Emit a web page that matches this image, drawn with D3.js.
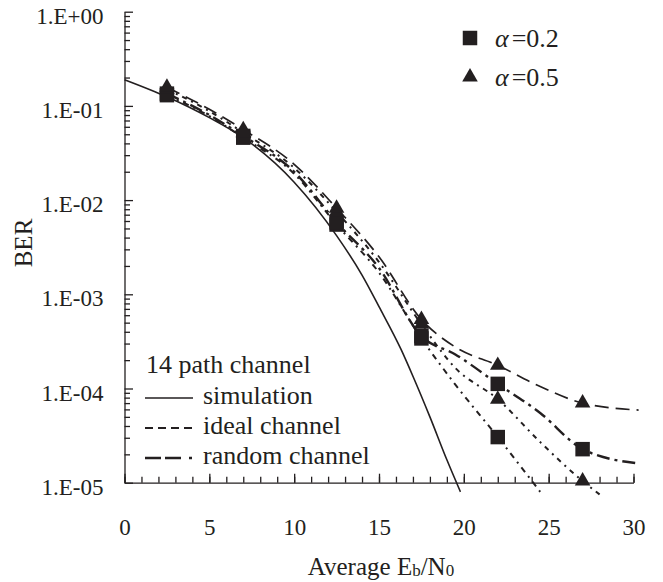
<!DOCTYPE html>
<html>
<head>
<meta charset="utf-8">
<script src="https://cdn.jsdelivr.net/npm/d3@7"></script>
<style>
  body { margin: 0; background: #fff; }
</style>
</head>
<body>
<div id="chart"></div>
<script>
// x positions of the markers (Eb/N0, dB)
const markerX = [2.5, 7, 12.5, 17.5, 22, 27];

// marker values, one list per series (null = off the chart)
const randomA05Marks = [0.158, 0.056, 0.0082, 5.4e-4, 1.76e-4, 7.0e-5];
const randomA02Marks = [0.135, 0.048, 0.0058, 3.6e-4, 1.12e-4, 2.27e-5];
const idealA05Marks  = [0.15, 0.052, 0.0075, 4.8e-4, 7.7e-5, 1.04e-5];
const idealA02Marks  = [0.13, 0.046, 0.0055, 3.4e-4, 3.05e-5, null];

// curves
const simX = [0, 2.5, 5, 7, 10, 12.5, 14, 15, 16.3, 17, 18, 19, 19.8];
const simY = [0.19, 0.125, 0.075, 0.046, 0.0155, 0.0042, 0.0016, 7.4e-4, 2.6e-4, 1.35e-4, 5e-5, 1.75e-5, 8e-6];

const randomA05X = [2.5, 5, 7, 10, 12.5, 15, 17.5, 19.5, 22, 24.5, 27, 30.3];
const randomA05Y = [0.158, 0.092, 0.056, 0.024, 0.0082, 0.0025, 5.4e-4, 2.75e-4, 1.76e-4, 1.05e-4, 7.0e-5, 5.9e-5];
const randomA02X = [2.5, 5, 7, 10, 12.5, 15, 17.5, 19.5, 22, 24.5, 27, 30.3];
const randomA02Y = [0.135, 0.08, 0.048, 0.02, 0.0058, 0.0019, 3.6e-4, 2.3e-4, 1.12e-4, 5.5e-5, 2.27e-5, 1.6e-5];
const idealA05X = [2.5, 5, 7, 10, 12.5, 15, 17.5, 19.5, 22, 24.5, 27, 28];
const idealA05Y = [0.15, 0.088, 0.052, 0.022, 0.0075, 0.0022, 4.8e-4, 1.65e-4, 7.7e-5, 2.7e-5, 1.04e-5, 7.5e-6];
const idealA02X = [2.5, 5, 7, 10, 12.5, 15, 17.5, 19.5, 22, 24.5];
const idealA02Y = [0.13, 0.078, 0.046, 0.019, 0.0055, 0.0017, 3.4e-4, 1.1e-4, 3.05e-5, 8e-6];

// tick labels
const xTickValues = [0, 5, 10, 15, 20, 25, 30];
const yTickValues = [1, 1e-1, 1e-2, 1e-3, 1e-4, 1e-5];
const yTickLabels = ["1.E+00", "1.E-01", "1.E-02", "1.E-03", "1.E-04", "1.E-05"];

const width = 663, height = 582;
const ink = "#231f20";
const serif = '"Liberation Serif", "Times New Roman", serif';

const svg = d3.select("#chart").append("svg")
  .attr("width", width)
  .attr("height", height)
  .attr("font-family", serif);

const x = d3.scaleLinear().domain([0, 30]).range([124.5, 633.5]);
const y = d3.scaleLog().domain([1e-5, 1]).range([482.7, 11.7]);

// x axis: minor ticks every unit, major every 5
svg.append("g")
  .attr("transform", `translate(0,${y(1e-5)})`)
  .call(d3.axisBottom(x).tickValues(d3.range(0, 31, 1)).tickSize(-6).tickSizeOuter(0).tickFormat(""))
  .call(g => g.selectAll("line,path").attr("stroke", ink).attr("stroke-width", 1.3));

svg.append("g")
  .attr("transform", `translate(0,${y(1e-5)})`)
  .call(d3.axisBottom(x).tickValues(xTickValues).tickSize(-9).tickSizeOuter(0).tickPadding(36))
  .call(g => g.attr("font-family", serif).attr("font-size", 23))
  .call(g => g.select(".domain").remove())
  .call(g => g.selectAll("line").attr("stroke", ink).attr("stroke-width", 1.3))
  .call(g => g.selectAll("text").attr("fill", ink));

// y axis: log minor ticks
const yMinor = [];
for (let e = -5; e < 0; e++) for (let k = 2; k <= 9; k++) yMinor.push(k * Math.pow(10, e));

svg.append("g")
  .attr("transform", `translate(${x(0)},0)`)
  .call(d3.axisLeft(y).tickValues(yMinor).tickSize(-5.5).tickSizeOuter(0).tickFormat(""))
  .call(g => g.selectAll("line,path").attr("stroke", ink).attr("stroke-width", 1.3));

svg.append("g")
  .attr("transform", `translate(${x(0)},0)`)
  .call(d3.axisLeft(y).tickValues(yTickValues).tickSize(-8.5).tickSizeOuter(0).tickPadding(21)
    .tickFormat((d, i) => yTickLabels[i]))
  .call(g => g.attr("font-family", serif).attr("font-size", 23))
  .call(g => g.select(".domain").remove())
  .call(g => g.selectAll("line").attr("stroke", ink).attr("stroke-width", 1.3))
  .call(g => g.selectAll("text").attr("dy", "0.5em").attr("fill", ink));

// axis titles
svg.append("text")
  .attr("transform", "translate(32,243) rotate(-90)")
  .attr("text-anchor", "middle")
  .attr("font-size", 25)
  .attr("fill", ink)
  .text("BER");

const xt = svg.append("text")
  .attr("x", 381).attr("y", 575)
  .attr("text-anchor", "middle")
  .attr("font-size", 25)
  .attr("fill", ink);
xt.append("tspan").text("Average E");
xt.append("tspan").attr("font-size", 17).attr("dy", 1).text("b");
xt.append("tspan").attr("dy", -1).text("/N");
xt.append("tspan").attr("font-size", 17).attr("dy", 1).text("0");

// curves
const line = d3.line()
  .x(d => x(d[0]))
  .y(d => y(d[1]))
  .curve(d3.curveMonotoneX);

const curves = [
  { xs: simX, ys: simY, dash: null, w: 1.6 },
  { xs: idealA02X, ys: idealA02Y, dash: "6,5,2,5", w: 2 },
  { xs: idealA05X, ys: idealA05Y, dash: "5,5,2,5", w: 2 },
  { xs: randomA02X, ys: randomA02Y, dash: "13,5,3,5", w: 2.4 },
  { xs: randomA05X, ys: randomA05Y, dash: "14,7", w: 1.7 }
];

svg.append("g").selectAll("path")
  .data(curves)
  .enter()
  .append("path")
  .attr("d", c => line(d3.zip(c.xs, c.ys)))
  .attr("fill", "none")
  .attr("stroke", ink)
  .attr("stroke-width", c => c.w)
  .attr("stroke-dasharray", c => c.dash);

// markers
const square = d3.symbol(d3.symbolSquare, 210);
const triangle = d3.symbol(d3.symbolTriangle, 105);

const markerSets = [
  { vals: idealA02Marks, sym: square },
  { vals: randomA02Marks, sym: square },
  { vals: idealA05Marks, sym: triangle },
  { vals: randomA05Marks, sym: triangle }
];

markerSets.forEach(s => {
  svg.append("g").selectAll("path")
    .data(markerX.map((mx, i) => [mx, s.vals[i]]).filter(d => d[1] != null))
    .enter()
    .append("path")
    .attr("d", s.sym)
    .attr("transform", d => `translate(${x(d[0])},${y(d[1])})`)
    .attr("fill", ink);
});

// legend, top right
const alphaLegend = [
  { sym: square, label: "=0.2", cy: 38 },
  { sym: triangle, label: "=0.5", cy: 77 }
];
alphaLegend.forEach(a => {
  svg.append("path").attr("d", a.sym).attr("transform", `translate(470,${a.cy})`).attr("fill", ink);
  const t = svg.append("text").attr("x", 495).attr("y", a.cy + 9).attr("font-size", 26).attr("fill", ink);
  t.append("tspan").attr("font-style", "italic").text("\u03b1");
  t.append("tspan").attr("dx", 3).text(a.label);
});

// legend, bottom left
svg.append("text").attr("x", 146).attr("y", 373).attr("font-size", 26).attr("fill", ink).text("14 path channel");
const lineLegend = [
  { label: "simulation", dash: null, w: 1.6, yy: 404 },
  { label: "ideal channel", dash: "8,5", w: 2, yy: 434 },
  { label: "random channel", dash: "16,4,16,8,3,6", w: 2.4, yy: 464 }
];
lineLegend.forEach(l => {
  svg.append("line")
    .attr("x1", 145).attr("x2", 193)
    .attr("y1", l.yy - 6).attr("y2", l.yy - 6)
    .attr("stroke", ink).attr("stroke-width", l.w)
    .attr("stroke-dasharray", l.dash);
  svg.append("text").attr("x", 203).attr("y", l.yy).attr("font-size", 26).attr("fill", ink).text(l.label);
});
</script>
</body>
</html>
